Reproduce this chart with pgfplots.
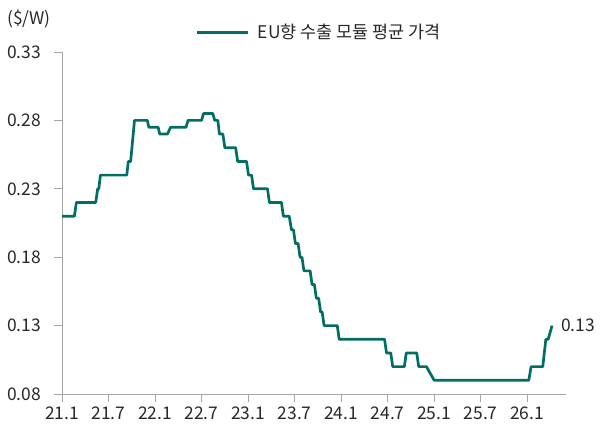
\documentclass[border=0pt]{standalone}
\usepackage{fontspec}
\setmainfont{Noto Sans CJK KR}
\usepackage{pgfplots}
\pgfplotsset{compat=1.18}
\definecolor{lineteal}{RGB}{0,110,98}
\definecolor{axgray}{RGB}{165,165,165}
\definecolor{txt}{RGB}{40,40,40}

\begin{document}
\fontsize{17.5}{20}\selectfont
\begin{tikzpicture}[x=1bp,y=1bp]
\useasboundingbox (0,0) rectangle (600,425);
\begin{axis}[
  at={(62bp,31bp)},anchor=south west,scale only axis,
  width=504bp,height=342bp,
  xmin=0,xmax=65,ymin=0.08,ymax=0.33,
  axis x line=bottom,axis y line=left,
  axis line style={draw=axgray,line width=0.9bp,-},
  tick style={draw=axgray,line width=0.9bp},
  tick align=outside,major tick length=8bp,
  xtick={0,6,12,18,24,30,36,42,48,54,60},
  xticklabels={21.1,21.7,22.1,22.7,23.1,23.7,24.1,24.7,25.1,25.7,26.1},
  ytick={0.08,0.13,0.18,0.23,0.28,0.33},
  yticklabels={0.08,0.13,0.18,0.23,0.28,0.33},
  tick label style={font=\fontsize{17.5}{20}\selectfont,text=txt},
  yticklabel style={xshift=-7bp},
  xticklabel style={yshift=1bp},
  legend style={at={(0.51,1.056)},anchor=center,draw=none,fill=none,
    font=\fontsize{17.5}{20}\selectfont,text=txt,inner sep=0pt,
    /tikz/every even column/.append style={column sep=0pt}},
  legend image code/.code={\draw[#1] (0bp,0bp) -- (51bp,0bp);},
  clip=false,
]
\addplot[lineteal,line width=2.7bp,line join=round] coordinates {
(0,0.21) (1.6,0.21) (1.85,0.22) (4.35,0.22) (4.6,0.23) (4.75,0.23) (4.95,0.24)
(8.35,0.24) (8.55,0.25) (8.85,0.25) (9.35,0.28) (11.0,0.28) (11.2,0.275)
(12.4,0.275) (12.6,0.27) (13.6,0.27) (14.0,0.275) (16.0,0.275) (16.25,0.28)
(18.0,0.28) (18.25,0.285) (19.45,0.285) (19.7,0.28) (20.1,0.28) (20.3,0.27)
(20.75,0.27) (21.0,0.26) (22.4,0.26) (22.65,0.25) (23.8,0.25) (24.05,0.24)
(24.45,0.24) (24.7,0.23) (26.5,0.23) (26.75,0.22) (28.3,0.22) (28.55,0.21)
(29.3,0.21) (29.6,0.20) (29.85,0.20) (30.1,0.19) (30.45,0.19) (30.7,0.18)
(30.95,0.18) (31.2,0.17) (32.0,0.17) (32.25,0.16) (32.55,0.16) (32.8,0.15)
(33.1,0.15) (33.35,0.14) (33.55,0.14) (33.8,0.13) (35.5,0.13) (35.75,0.12)
(41.6,0.12) (41.85,0.11) (42.4,0.11) (42.65,0.10) (44.15,0.10) (44.4,0.11)
(45.75,0.11) (46.0,0.10) (47.0,0.10) (48.0,0.09) (60.2,0.09) (60.5,0.10)
(62.0,0.10) (62.4,0.12) (62.7,0.12) (63.2,0.13)
};
\addlegendentry{\hspace{7bp}EU향 수출 모듈 평균 가격}
\node[anchor=west,text=txt,inner sep=0pt] at (axis cs:63.2,0.13) {\hspace{9bp}0.13};
\end{axis}
\node[anchor=west,text=txt,inner sep=0pt] at (7,406) {(\$/W)};
\end{tikzpicture}
\end{document}
